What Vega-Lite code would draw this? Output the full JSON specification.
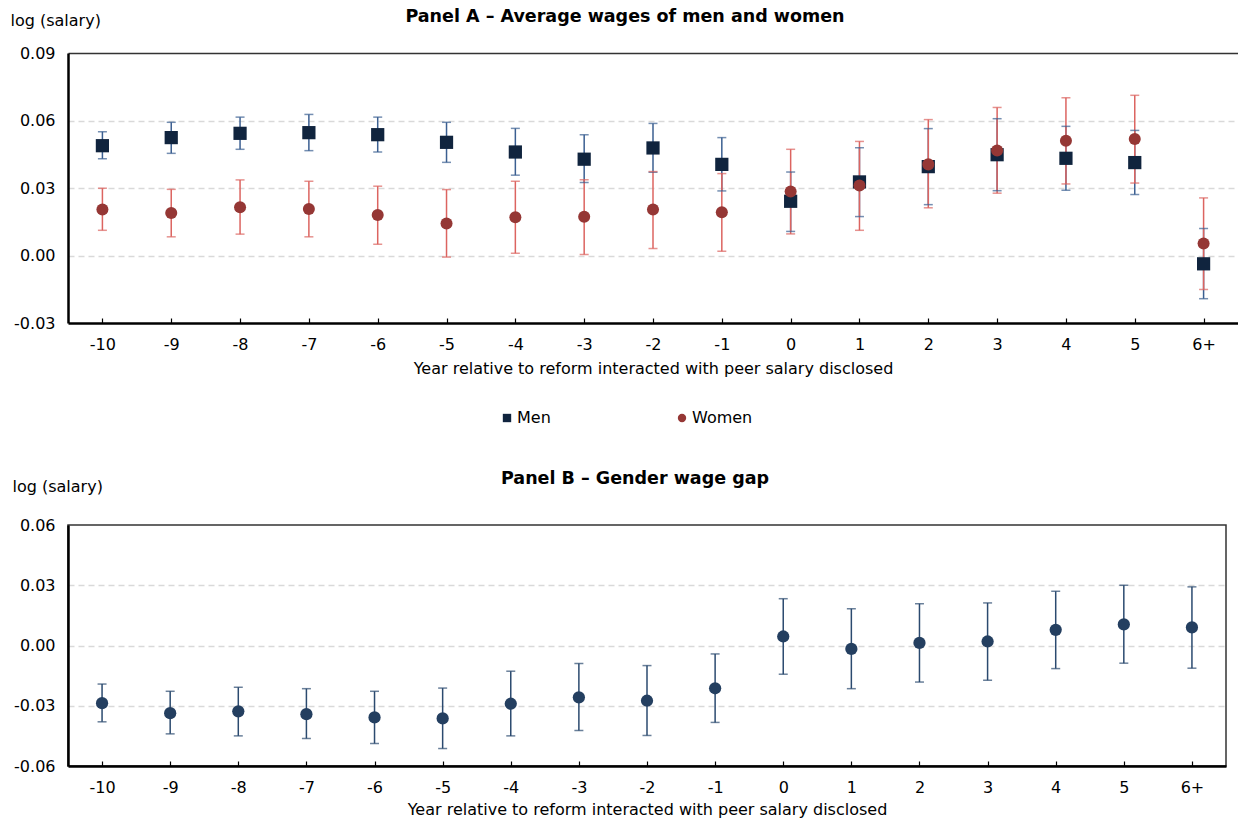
{
  "$schema": "https://vega.github.io/schema/vega-lite/v6.json",
  "background": "white",
  "padding": {"left": 10, "top": 7, "right": 0, "bottom": 5},
  "spacing": 93,
  "config": {
    "font": "DejaVu Sans",
    "view": {"stroke": null},
    "axis": {
      "labelFont": "DejaVu Sans", "labelFontSize": 16, "labelColor": "#000",
      "titleFont": "DejaVu Sans", "titleFontSize": 16, "titleFontWeight": "normal", "titleColor": "#000"
    },
    "title": {"font": "DejaVu Sans", "fontSize": 17.5, "fontWeight": "bold", "color": "#000"}
  },
  "datasets": {
    "a": [
      {"year": "-10", "sex": "Men", "est": 0.0488, "lo": 0.043, "hi": 0.055},
      {"year": "-9", "sex": "Men", "est": 0.0524, "lo": 0.0454, "hi": 0.0592},
      {"year": "-8", "sex": "Men", "est": 0.0543, "lo": 0.0472, "hi": 0.0615},
      {"year": "-7", "sex": "Men", "est": 0.0546, "lo": 0.0466, "hi": 0.0627},
      {"year": "-6", "sex": "Men", "est": 0.0537, "lo": 0.046, "hi": 0.0615},
      {"year": "-5", "sex": "Men", "est": 0.0503, "lo": 0.0414, "hi": 0.0592},
      {"year": "-4", "sex": "Men", "est": 0.046, "lo": 0.0357, "hi": 0.0565},
      {"year": "-3", "sex": "Men", "est": 0.0428, "lo": 0.0324, "hi": 0.0537},
      {"year": "-2", "sex": "Men", "est": 0.0478, "lo": 0.037, "hi": 0.0587},
      {"year": "-1", "sex": "Men", "est": 0.0405, "lo": 0.0287, "hi": 0.0524},
      {"year": "0", "sex": "Men", "est": 0.0241, "lo": 0.0107, "hi": 0.0371},
      {"year": "1", "sex": "Men", "est": 0.0327, "lo": 0.0173, "hi": 0.0479},
      {"year": "2", "sex": "Men", "est": 0.0395, "lo": 0.0226, "hi": 0.0564},
      {"year": "3", "sex": "Men", "est": 0.0448, "lo": 0.0288, "hi": 0.0608},
      {"year": "4", "sex": "Men", "est": 0.0432, "lo": 0.029, "hi": 0.0574},
      {"year": "5", "sex": "Men", "est": 0.0413, "lo": 0.0271, "hi": 0.0556},
      {"year": "6+", "sex": "Men", "est": -0.0037, "lo": -0.0192, "hi": 0.012},
      {"year": "-10", "sex": "Women", "est": 0.0204, "lo": 0.0112, "hi": 0.0299},
      {"year": "-9", "sex": "Women", "est": 0.0189, "lo": 0.0083, "hi": 0.0294},
      {"year": "-8", "sex": "Women", "est": 0.0214, "lo": 0.0095, "hi": 0.0336},
      {"year": "-7", "sex": "Women", "est": 0.0207, "lo": 0.0083, "hi": 0.033},
      {"year": "-6", "sex": "Women", "est": 0.018, "lo": 0.005, "hi": 0.0308},
      {"year": "-5", "sex": "Women", "est": 0.0142, "lo": -0.0007, "hi": 0.0293},
      {"year": "-4", "sex": "Women", "est": 0.017, "lo": 0.001, "hi": 0.033},
      {"year": "-3", "sex": "Women", "est": 0.0172, "lo": 0.0004, "hi": 0.0337},
      {"year": "-2", "sex": "Women", "est": 0.0204, "lo": 0.0031, "hi": 0.0373},
      {"year": "-1", "sex": "Women", "est": 0.0192, "lo": 0.0019, "hi": 0.0364},
      {"year": "0", "sex": "Women", "est": 0.0284, "lo": 0.0096, "hi": 0.0472},
      {"year": "1", "sex": "Women", "est": 0.0311, "lo": 0.0112, "hi": 0.0507},
      {"year": "2", "sex": "Women", "est": 0.0405, "lo": 0.0212, "hi": 0.0604},
      {"year": "3", "sex": "Women", "est": 0.0467, "lo": 0.0277, "hi": 0.0658},
      {"year": "4", "sex": "Women", "est": 0.051, "lo": 0.0318, "hi": 0.0701},
      {"year": "5", "sex": "Women", "est": 0.0518, "lo": 0.0322, "hi": 0.0712},
      {"year": "6+", "sex": "Women", "est": 0.0053, "lo": -0.0151, "hi": 0.0256}
    ],
    "b": [
      {"year": "-10", "est": -0.0287, "lo": -0.038, "hi": -0.0192},
      {"year": "-9", "est": -0.0337, "lo": -0.044, "hi": -0.0228},
      {"year": "-8", "est": -0.0328, "lo": -0.045, "hi": -0.0208},
      {"year": "-7", "est": -0.0342, "lo": -0.0463, "hi": -0.0215},
      {"year": "-6", "est": -0.0358, "lo": -0.0488, "hi": -0.0228},
      {"year": "-5", "est": -0.0363, "lo": -0.0513, "hi": -0.0212},
      {"year": "-4", "est": -0.029, "lo": -0.045, "hi": -0.0128},
      {"year": "-3", "est": -0.0258, "lo": -0.0423, "hi": -0.009},
      {"year": "-2", "est": -0.0275, "lo": -0.0448, "hi": -0.01},
      {"year": "-1", "est": -0.0213, "lo": -0.0383, "hi": -0.0042},
      {"year": "0", "est": 0.0045, "lo": -0.0143, "hi": 0.0233},
      {"year": "1", "est": -0.0017, "lo": -0.0215, "hi": 0.0183},
      {"year": "2", "est": 0.0013, "lo": -0.0182, "hi": 0.0208},
      {"year": "3", "est": 0.002, "lo": -0.0173, "hi": 0.0212},
      {"year": "4", "est": 0.0078, "lo": -0.0115, "hi": 0.027},
      {"year": "5", "est": 0.0105, "lo": -0.0088, "hi": 0.03},
      {"year": "6+", "est": 0.009, "lo": -0.0113, "hi": 0.0292}
    ]
  },
  "vconcat": [
    {
      "width": 1170,
      "height": 270,
      "title": {"text": "Panel A – Average wages of men and women", "anchor": "middle", "offset": -13, "dx": -28},
      "data": {"name": "a"},
      "resolve": {"axis": {"x": "independent"}},
      "layer": [
        {
          "mark": {"type": "rule", "strokeWidth": 1.5},
          "encoding": {
            "x": {"field": "year", "type": "ordinal", "sort": ["-10","-9","-8","-7","-6","-5","-4","-3","-2","-1","0","1","2","3","4","5","6+"],
                  "scale": {"type": "point", "padding": 0.5},
                  "axis": {"title": "Year relative to reform interacted with peer salary disclosed", "labelAngle": 0, "tickSize": -5, "tickColor": "#000", "tickWidth": 1.2, "labelPadding": 18, "titlePadding": 8, "domainColor": "#000", "domainWidth": 2.5}},
            "y": {"field": "lo", "type": "quantitative", "scale": {"domain": [-0.03, 0.09], "nice": false, "zero": false},
                  "axis": {"values": [-0.03, 0, 0.03, 0.06, 0.09],
                           "labelExpr": "datum.value < 0 ? '-' + format(-datum.value, '.2f') : format(datum.value, '.2f')",
                           "grid": true, "gridDash": [6, 4],
                           "gridColor": {"condition": {"test": "datum.value < -0.02 || datum.value > 0.08", "value": "transparent"}, "value": "#d9d9d9"},
                           "gridWidth": 1.5, "ticks": false, "domainColor": "#000", "domainWidth": 2.5, "labelPadding": 13,
                           "title": "log (salary)", "titleAngle": 0, "titleAlign": "left", "titleBaseline": "middle", "titleX": -58, "titleY": -33}},
            "y2": {"field": "hi"},
            "color": {"condition": {"test": "datum.sex === 'Men'", "value": "#3b5f91"}, "value": "#dc6460"}
          }
        },
        {
          "mark": {"type": "tick", "thickness": 1.5, "size": 9, "orient": "horizontal"},
          "encoding": {
            "x": {"field": "year", "type": "ordinal", "sort": ["-10","-9","-8","-7","-6","-5","-4","-3","-2","-1","0","1","2","3","4","5","6+"], "axis": null},
            "y": {"field": "lo", "type": "quantitative"},
            "color": {"condition": {"test": "datum.sex === 'Men'", "value": "#3b5f91"}, "value": "#dc6460"}
          }
        },
        {
          "mark": {"type": "tick", "thickness": 1.5, "size": 9, "orient": "horizontal"},
          "encoding": {
            "x": {"field": "year", "type": "ordinal", "sort": ["-10","-9","-8","-7","-6","-5","-4","-3","-2","-1","0","1","2","3","4","5","6+"], "axis": null},
            "y": {"field": "hi", "type": "quantitative"},
            "color": {"condition": {"test": "datum.sex === 'Men'", "value": "#3b5f91"}, "value": "#dc6460"}
          }
        },
        {
          "mark": {"type": "point", "filled": true, "opacity": 1, "strokeWidth": 0},
          "encoding": {
            "x": {"field": "year", "type": "ordinal", "sort": ["-10","-9","-8","-7","-6","-5","-4","-3","-2","-1","0","1","2","3","4","5","6+"], "axis": null},
            "y": {"field": "est", "type": "quantitative"},
            "fill": {"field": "sex", "type": "nominal", "scale": {"domain": ["Men", "Women"], "range": ["#10243e", "#953735"]},
                     "legend": {"title": null, "orient": "none", "legendX": 431, "legendY": 357, "direction": "horizontal", "labelFontSize": 16, "labelFont": "DejaVu Sans", "labelColor": "#000", "symbolSize": 70, "labelOffset": 2, "columnPadding": 123, "symbolStrokeWidth": 0}},
            "shape": {"field": "sex", "type": "nominal", "scale": {"domain": ["Men", "Women"], "range": ["square", "circle"]},
                      "legend": {"title": null, "orient": "none", "legendX": 431, "legendY": 357, "direction": "horizontal", "labelFontSize": 16, "labelFont": "DejaVu Sans", "labelColor": "#000", "symbolSize": 70, "labelOffset": 2, "columnPadding": 123, "symbolStrokeWidth": 0}},
            "size": {"condition": {"test": "datum.sex === 'Men'", "value": 175}, "value": 145}
          }
        },
        {
          "mark": {"type": "point", "opacity": 0},
          "encoding": {
            "x": {"field": "year", "type": "ordinal", "sort": ["-10","-9","-8","-7","-6","-5","-4","-3","-2","-1","0","1","2","3","4","5","6+"],
                  "axis": {"orient": "top", "labels": false, "ticks": false, "title": null, "domainColor": "#333", "domainWidth": 1.5}},
            "y": {"field": "est", "type": "quantitative"}
          }
        }
      ]
    },
    {
      "width": 1158,
      "height": 241,
      "view": {"stroke": "#333", "strokeWidth": 1.5},
      "title": {"text": "Panel B – Gender wage gap", "anchor": "middle", "offset": -9.5, "dx": -12},
      "data": {"name": "b"},
      "encoding": {
        "x": {"field": "year", "type": "ordinal", "sort": ["-10","-9","-8","-7","-6","-5","-4","-3","-2","-1","0","1","2","3","4","5","6+"],
              "scale": {"type": "point", "padding": 0.5},
              "axis": {"title": "Year relative to reform interacted with peer salary disclosed", "labelAngle": 0, "tickSize": -5, "tickColor": "#000", "tickWidth": 1.2, "labelPadding": 18, "titlePadding": 6, "domainColor": "#000", "domainWidth": 2.5}}
      },
      "layer": [
        {
          "mark": {"type": "rule", "strokeWidth": 1.5, "color": "#2b4a6f"},
          "encoding": {
            "y": {"field": "lo", "type": "quantitative", "scale": {"domain": [-0.06, 0.06], "nice": false, "zero": false},
                  "axis": {"values": [-0.06, -0.03, 0, 0.03, 0.06],
                           "labelExpr": "datum.value < 0 ? '-' + format(-datum.value, '.2f') : format(datum.value, '.2f')",
                           "grid": true, "gridDash": [6, 4],
                           "gridColor": {"condition": {"test": "datum.value < -0.05 || datum.value > 0.05", "value": "transparent"}, "value": "#d9d9d9"},
                           "gridWidth": 1.5, "ticks": false, "domainColor": "#000", "domainWidth": 2.5, "labelPadding": 13,
                           "title": "log (salary)", "titleAngle": 0, "titleAlign": "left", "titleBaseline": "middle", "titleX": -56, "titleY": -39}},
            "y2": {"field": "hi"}
          }
        },
        {
          "mark": {"type": "tick", "thickness": 1.5, "size": 9, "orient": "horizontal", "color": "#2b4a6f"},
          "encoding": {"y": {"field": "lo", "type": "quantitative"}}
        },
        {
          "mark": {"type": "tick", "thickness": 1.5, "size": 9, "orient": "horizontal", "color": "#2b4a6f"},
          "encoding": {"y": {"field": "hi", "type": "quantitative"}}
        },
        {
          "mark": {"type": "circle", "opacity": 1, "size": 150, "color": "#243f60"},
          "encoding": {"y": {"field": "est", "type": "quantitative"}}
        }
      ]
    }
  ]
}
